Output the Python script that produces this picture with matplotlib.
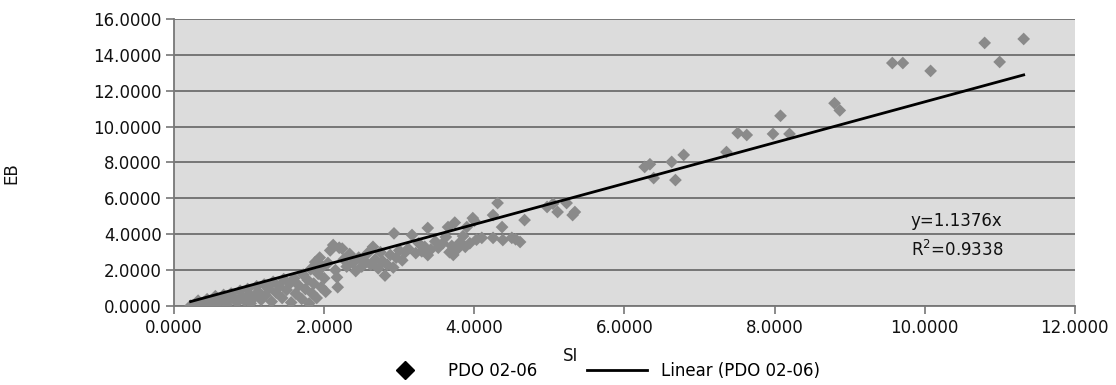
import matplotlib.pyplot as plt
from matplotlib.lines import Line2D
from matplotlib.ticker import FormatStrFormatter

# ─── Données ───
si_vals = [
    0.22, 0.28, 0.32, 0.36, 0.40, 0.44, 0.48, 0.52, 0.55, 0.58, 0.62, 0.66,
    0.70, 0.72, 0.76, 0.80, 0.84, 0.88, 0.90, 0.94, 0.98, 1.00, 1.02, 1.06,
    1.10, 1.12, 1.16, 1.20, 1.22, 1.26, 1.30, 1.32, 1.36, 1.40, 1.44, 1.46,
    1.50, 1.54, 1.56, 1.60, 1.62, 1.66, 1.70, 1.72, 1.75, 1.78, 1.80, 1.82,
    1.84, 1.86, 1.88, 1.90, 1.92, 1.94, 1.96, 1.98, 2.00, 2.02,
    2.05, 2.08, 2.12, 2.15, 2.17, 2.18, 2.20, 2.24, 2.26, 2.30, 2.34, 2.38,
    2.42, 2.46, 2.50, 2.54, 2.58, 2.62, 2.65, 2.68, 2.72, 2.75, 2.78, 2.81,
    2.84, 2.88, 2.92, 2.93, 2.96, 3.00, 3.04, 3.08,
    3.12, 3.17, 3.22, 3.26, 3.30, 3.34, 3.38, 3.38, 3.42, 3.48, 3.52, 3.58,
    3.62, 3.65, 3.67, 3.70, 3.72, 3.74, 3.78, 3.81, 3.85, 3.88, 3.90, 3.94,
    3.98, 4.00, 4.03,
    4.10, 4.25, 4.25, 4.31, 4.37, 4.38, 4.50, 4.55, 4.61, 4.67, 4.97, 5.05,
    5.11, 5.23, 5.31, 5.34,
    6.27, 6.34, 6.39, 6.63, 6.68, 6.79, 7.36, 7.51, 7.63, 7.98, 8.08, 8.20,
    8.80, 8.87, 9.57, 9.71, 10.08, 10.80, 11.00, 11.32,
]
eb_vals = [
    0.02, 0.10, 0.30, 0.05, 0.20, 0.38, 0.10, 0.30, 0.55, 0.15, 0.40, 0.62,
    0.08, 0.30, 0.70, 0.45, 0.20, 0.85, 0.55, 0.30, 0.95, 0.65, 0.15, 0.45,
    1.10, 0.80, 0.35, 1.20, 0.60, 0.95, 0.25, 1.35, 0.75, 1.10, 0.45, 1.50,
    0.90, 1.25, 0.20, 1.55, 0.70, 1.15, 0.40, 1.75, 0.95, 1.45, 0.15, 2.05,
    0.70, 1.25, 2.45, 0.45, 1.80, 2.70, 1.05, 2.20, 1.55, 0.80,
    2.40, 3.10, 3.40, 2.00, 1.60, 1.05, 3.25, 3.20, 2.60, 2.20, 2.90, 2.40,
    1.95, 2.70, 2.20, 2.50, 2.95, 2.30, 3.30, 2.60, 2.10, 3.00, 2.50, 1.70,
    2.30, 2.85, 2.15, 4.05, 2.70, 3.10, 2.55, 3.00,
    3.20, 3.96, 2.95, 3.50, 3.05, 3.30, 4.35, 2.84, 3.15, 3.60, 3.25, 3.50,
    3.85, 4.40, 3.00, 3.35, 2.85, 4.65, 3.20, 3.55, 3.90, 3.30, 4.40, 3.50,
    4.90, 4.75, 3.70,
    3.80, 3.80, 5.07, 5.74, 4.40, 3.68, 3.80, 3.72, 3.57, 4.79, 5.52, 5.70,
    5.24, 5.74, 5.07, 5.24,
    7.75, 7.90, 7.13, 8.03, 7.02, 8.42, 8.58, 9.64, 9.53, 9.59, 10.60, 9.59,
    11.30, 10.90, 13.54, 13.54, 13.10, 14.66, 13.60, 14.88,
]
pente = 1.1376
r2 = 0.9338

fig = plt.figure(figsize=(11.16, 3.85), dpi=100)
ax = fig.add_axes([0.156, 0.205, 0.807, 0.746])
ax.set_facecolor('#dcdcdc')

# Nuage de points
ax.scatter(si_vals, eb_vals, marker='D', s=42, color='#8a8a8a', edgecolors='none', zorder=3)

# Courbe de tendance linéaire (ordonnée à l'origine = 0)
x_min, x_max = min(si_vals), max(si_vals)
ax.plot([x_min, x_max], [pente * x_min, pente * x_max], color='black', linewidth=2, zorder=4)

ax.set_xlim(0, 12)
ax.set_ylim(0, 16)
ax.set_xticks(range(0, 13, 2))
ax.set_yticks(range(0, 17, 2))
ax.xaxis.set_major_formatter(FormatStrFormatter('%.4f'))
ax.yaxis.set_major_formatter(FormatStrFormatter('%.4f'))
ax.tick_params(axis='both', direction='out', length=6, width=1.2, color='#777777',
               labelsize=12, labelcolor='#111111', pad=3)
ax.grid(axis='y', color='#6e6e6e', linewidth=1.3, zorder=1)
ax.set_axisbelow(True)
for side in ['top', 'right']:
    ax.spines[side].set_visible(False)
for side in ['left', 'bottom']:
    ax.spines[side].set_color('#777777')
    ax.spines[side].set_linewidth(1.3)

ax.set_xlabel('SI', fontsize=12, color='#111111')
ax.xaxis.set_label_coords(0.44, -0.143)
ax.set_ylabel('EB', fontsize=12, color='#111111')
ax.yaxis.set_label_coords(-0.171, 0.463)

ax.text(0.818, 0.295, f'y={pente}x', transform=ax.transAxes, fontsize=12, color='#111111', va='center')
ax.text(0.818, 0.197, f'R$^2$={r2}', transform=ax.transAxes, fontsize=12, color='#111111', va='center')

handles = [
    Line2D([], [], marker='D', linestyle='none', color='black', markersize=9),
    Line2D([], [], color='black', linewidth=2),
]
fig.legend(handles, ['PDO 02-06', 'Linear (PDO 02-06)'], loc='center', ncol=2,
           bbox_to_anchor=(0.535, 0.036), frameon=False, fontsize=12,
           handlelength=3.6, handletextpad=0.8, columnspacing=3.0)

plt.savefig('out.png', dpi=100)
